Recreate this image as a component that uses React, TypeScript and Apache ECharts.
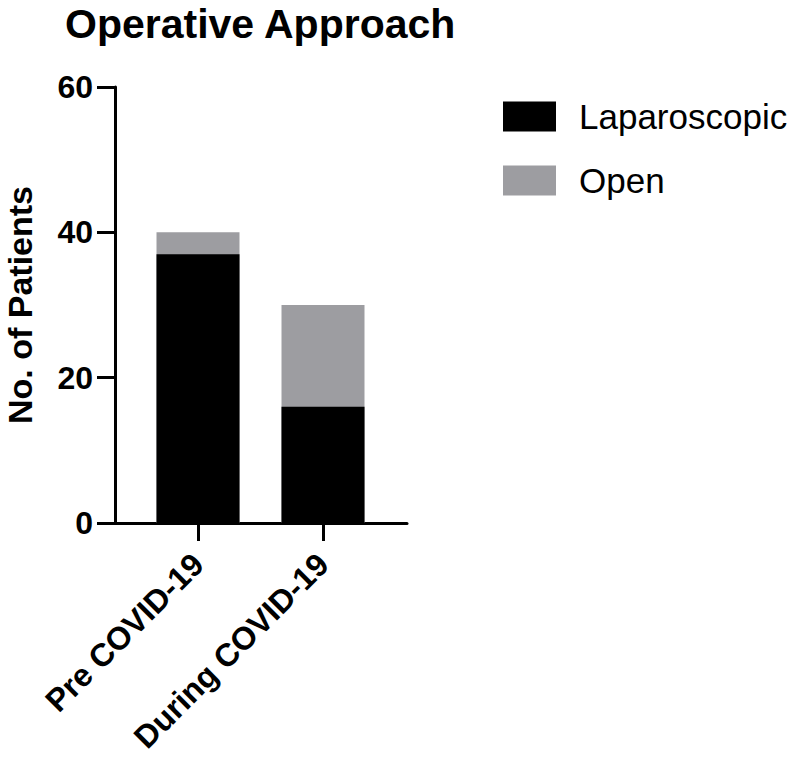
import React, { useEffect, useRef } from "react";
import * as echarts from "echarts";

const categories = ["Pre COVID-19", "During COVID-19"];
const categoryPositions = [1, 2];
const laparoscopic = [37, 16];
const open = [3, 14];
const yTicks = [0, 20, 40, 60];
const seriesNames = ["Laparoscopic", "Open"];

const FONT = "'Liberation Sans', Arial, Helvetica, sans-serif";

export default function App() {
  const ref = useRef<HTMLDivElement>(null);
  useEffect(() => {
    if (!ref.current) return;
    const chart = echarts.init(ref.current, null, { renderer: "svg" });
    const totals = laparoscopic.map((v, i) => v + open[i]);
    chart.setOption({
      animation: false,
      backgroundColor: "#ffffff",
      title: {
        text: "Operative Approach",
        left: 65,
        top: 3,
        padding: 0,
        textStyle: { fontFamily: FONT, fontWeight: "bold", fontSize: 41, color: "#000" },
      },
      legend: {
        orient: "vertical",
        left: 503,
        top: 99,
        padding: 0,
        itemWidth: 53,
        itemHeight: 30,
        itemGap: 29,
        icon: "rect",
        data: seriesNames,
        textStyle: { fontFamily: FONT, fontSize: 35, color: "#000", padding: [0, 0, 0, 18] },
      },
      grid: { left: 115, right: 386, top: 87, bottom: 237, containLabel: false },
      xAxis: {
        type: "value",
        min: 0.336,
        max: 2.672,
        splitLine: { show: false },
        axisLine: { show: true, lineStyle: { color: "#000", width: 3 } },
        axisTick: { show: true, length: 18, lineStyle: { color: "#000", width: 3 }, customValues: categoryPositions },
        axisLabel: {
          customValues: categoryPositions,
          rotate: 45,
          margin: 36,
          fontFamily: FONT,
          fontWeight: "bold",
          fontSize: 32,
          color: "#000",
          formatter: (v: number) => categories[categoryPositions.indexOf(Math.round(v))] ?? "",
        },
      },
      yAxis: {
        type: "value",
        min: 0,
        max: yTicks[yTicks.length - 1],
        interval: yTicks[1] - yTicks[0],
        name: "No. of Patients",
        nameLocation: "middle",
        nameGap: 78,
        nameTextStyle: { fontFamily: FONT, fontWeight: "bold", fontSize: 34, color: "#000" },
        splitLine: { show: false },
        axisLine: { show: true, lineStyle: { color: "#000", width: 3 } },
        axisTick: { show: true, length: 18, lineStyle: { color: "#000", width: 3 } },
        axisLabel: { margin: 22, fontFamily: FONT, fontWeight: "bold", fontSize: 32, color: "#000" },
      },
      series: [
        {
          name: "Open",
          type: "bar",
          barWidth: 83,
          barGap: "-100%",
          itemStyle: { color: "#9d9da1" },
          data: categoryPositions.map((x, i) => [x, totals[i]]),
        },
        {
          name: "Laparoscopic",
          type: "bar",
          barWidth: 83,
          barGap: "-100%",
          itemStyle: { color: "#000000" },
          data: categoryPositions.map((x, i) => [x, laparoscopic[i]]),
        },
      ],
    });
    return () => chart.dispose();
  }, []);
  return (
    <div
      ref={ref}
      style={{ position: "fixed", left: 0, top: 0, width: 793, height: 760, background: "#fff" }}
    />
  );
}
